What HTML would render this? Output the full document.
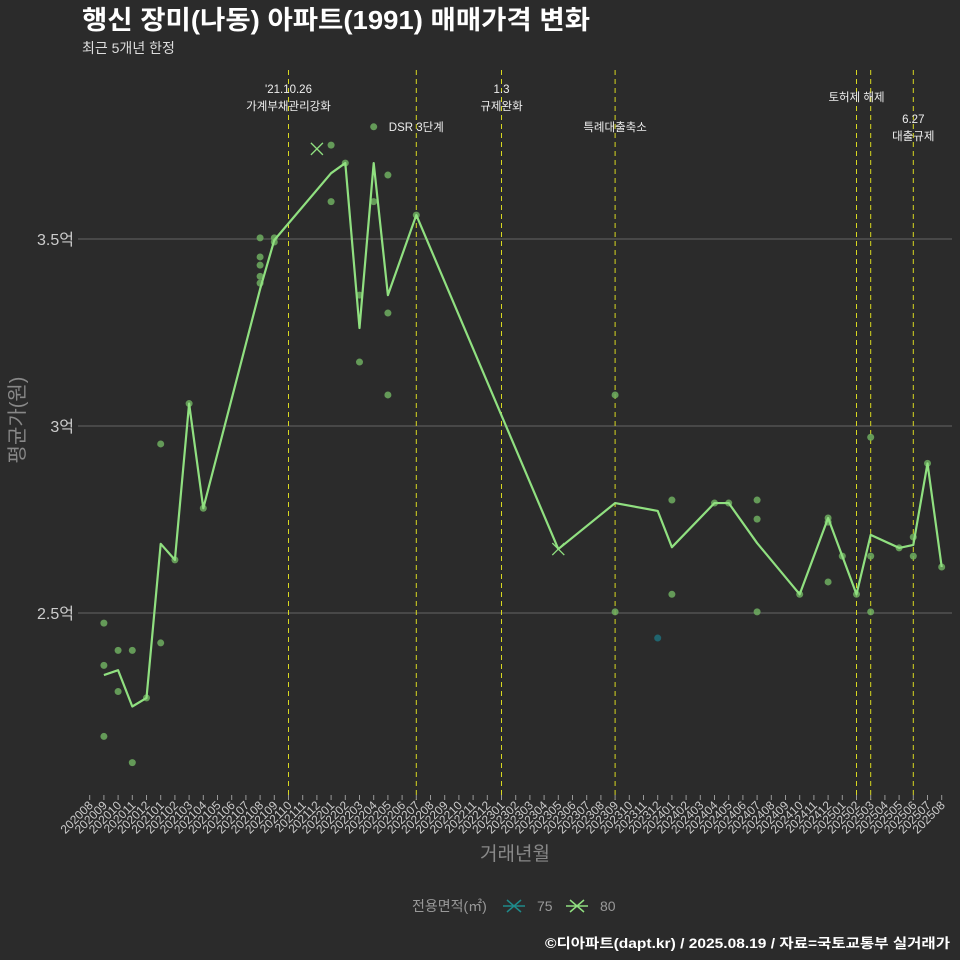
<!DOCTYPE html>
<html><head><meta charset="utf-8"><style>
body{margin:0;background:#2b2b2b;}
svg{display:block;font-family:"Liberation Sans","Noto Sans CJK KR",sans-serif;}
</style></head><body>
<svg id="c" width="960" height="960">
<rect width="960" height="960" fill="#2b2b2b"/>
<text x="82" y="29" fill="#fff" font-size="26" font-weight="bold" textLength="508" lengthAdjust="spacingAndGlyphs">행신 장미(나동) 아파트(1991) 매매가격 변화</text>
<text x="82" y="53" fill="#ddd" font-size="14">최근 5개년 한정</text>
<text transform="translate(24,420) rotate(-90)" text-anchor="middle" fill="#888" font-size="20">평균가(원)</text>
<text x="515" y="860" text-anchor="middle" fill="#888" font-size="19">거래년월</text>
<g id="grid"></g><g id="vlines"></g><g id="xt"></g><g id="pts"></g><g id="ln"></g><g id="ann"></g>
<g>
<text x="412" y="911" fill="#999" font-size="14">전용면적(㎡)</text>
<path d="M507,900 l14,12 M521,900 l-14,12" stroke="#1f8a8a" stroke-width="1.5"/><line x1="503" y1="906" x2="525" y2="906" stroke="#1f8a8a" stroke-width="1.5"/>
<text x="537" y="911" fill="#999" font-size="14">75</text>
<path d="M570,900 l14,12 M584,900 l-14,12" stroke="#90e080" stroke-width="1.5"/><line x1="566" y1="906" x2="588" y2="906" stroke="#90e080" stroke-width="1.5"/>
<text x="600" y="911" fill="#999" font-size="14">80</text>
</g>
<text x="950" y="948" text-anchor="end" fill="#fff" font-size="13.5" font-weight="bold" textLength="405" lengthAdjust="spacingAndGlyphs">©디아파트(dapt.kr) / 2025.08.19 / 자료=국토교통부 실거래가</text>
</svg>
<script>
const months=[];for(let y=2020,m=8;months.length<61;){months.push(String(y)+String(m).padStart(2,'0'));m++;if(m>12){m=1;y++;}}
const yTicks=[2.5,3,3.5];const yLabels=['2.5억','3억','3.5억'];
const lineMonths=['202009','202010','202011','202012','202101','202102','202103','202104','202108','202109','202201','202202','202203','202204','202205','202207','202305','202309','202312','202401','202404','202405','202407','202410','202412','202501','202502','202503','202505','202506','202507','202508'];
const lineValues=[2.334,2.347,2.25,2.273,2.685,2.642,3.06,2.78,3.366,3.497,3.676,3.703,3.262,3.703,3.35,3.564,2.671,2.794,2.773,2.676,2.794,2.794,2.687,2.55,2.754,2.652,2.55,2.709,2.674,2.682,2.90,2.623];
const ptMonths=['202009','202009','202009','202010','202010','202011','202011','202012','202101','202101','202102','202103','202104','202108','202108','202108','202108','202108','202109','202109','202201','202201','202202','202203','202203','202204','202204','202205','202205','202205','202207','202309','202309','202312','202401','202401','202404','202405','202407','202407','202407','202410','202412','202412','202412','202501','202502','202503','202503','202503','202505','202506','202506','202507','202508'];
const ptValues=[2.473,2.36,2.17,2.40,2.29,2.40,2.10,2.273,2.952,2.42,2.642,3.06,2.78,3.503,3.452,3.43,3.40,3.382,3.503,3.492,3.751,3.60,3.703,3.35,3.171,3.80,3.60,3.671,3.302,3.083,3.564,3.083,2.503,2.433,2.802,2.55,2.794,2.794,2.802,2.751,2.503,2.55,2.743,2.583,2.754,2.652,2.55,2.97,2.652,2.503,2.674,2.703,2.652,2.90,2.623];
const ptSizes=[80,80,80,80,80,80,80,80,80,80,80,80,80,80,80,80,80,80,80,80,80,80,80,80,80,80,80,80,80,80,80,80,80,75,80,80,80,80,80,80,80,80,80,80,80,80,80,80,80,80,80,80,80,80,80];
const xMonths=['202112','202305'];const xValues=[3.741,2.671];
const evMonths=['202110','202207','202301','202309','202502','202503','202506'];
const evLabels=[["'21.10.26","가계부채관리강화"],["DSR 3단계"],["1.3","규제완화"],["특례대출축소"],["토허제 해제"],[],["6.27","대출규제"]];
const evY=[93,131,93,131,101,0,123];
const X=m=>89.7+14.2*months.indexOf(m);const Y=v=>426-(v-3)*374;
const NS='http://www.w3.org/2000/svg';
function mk(t,a,p){const e=document.createElementNS(NS,t);for(const k in a)e.setAttribute(k,a[k]);p.appendChild(e);return e;}
const g=document.getElementById('grid');
yTicks.forEach((v,i)=>{const l=mk('line',{x1:78,x2:952,y1:Y(v),y2:Y(v),stroke:'#5a5a5a','stroke-width':1.3},g);


const t=mk('text',{x:74,y:Y(v)+6,'text-anchor':'end',fill:'#ccc','font-size':16},g);t.textContent=yLabels[i];

});
const xt=document.getElementById('xt');
months.forEach(m=>{const x=X(m);mk('line',{x1:x,x2:x,y1:795,y2:800,stroke:'#999'},xt);
const t=mk('text',{transform:`translate(${x+4},806) rotate(-45)`,'text-anchor':'end',fill:'#ccc','font-size':12},xt);t.textContent=m;

});
const vl=document.getElementById('vlines');const an=document.getElementById('ann');
evMonths.forEach((m,i)=>{const x=X(m);const l=mk('line',{x1:x,x2:x,y1:70,y2:800,stroke:'#d8d820','stroke-dasharray':'5,4','stroke-width':1},vl);


evLabels[i].forEach((s,j)=>{const t=mk('text',{x:x,y:evY[i]+j*17,'text-anchor':'middle',fill:'#eee','font-size':11.5},an);t.textContent=s;

});});
const pg=document.getElementById('pts');
ptMonths.forEach((m,i)=>{const c=mk('circle',{cx:X(m),cy:Y(ptValues[i]),r:3.5,fill:ptSizes[i]==75?'#1f6f7a':'#6fae60','fill-opacity':0.85},pg);

});
xMonths.forEach((m,i)=>{const x=X(m),y=Y(xValues[i]);const p=mk('path',{d:`M${x-6},${y-6}L${x+6},${y+6}M${x+6},${y-6}L${x-6},${y+6}`,stroke:'#90e080','stroke-width':1.3},pg);

});
const ln=mk('polyline',{points:lineMonths.map((m,i)=>X(m)+','+Y(lineValues[i])).join(' '),fill:'none',stroke:'#90e080','stroke-width':2.2,'stroke-linejoin':'round'},document.getElementById('ln'));


</script>
</body></html>
